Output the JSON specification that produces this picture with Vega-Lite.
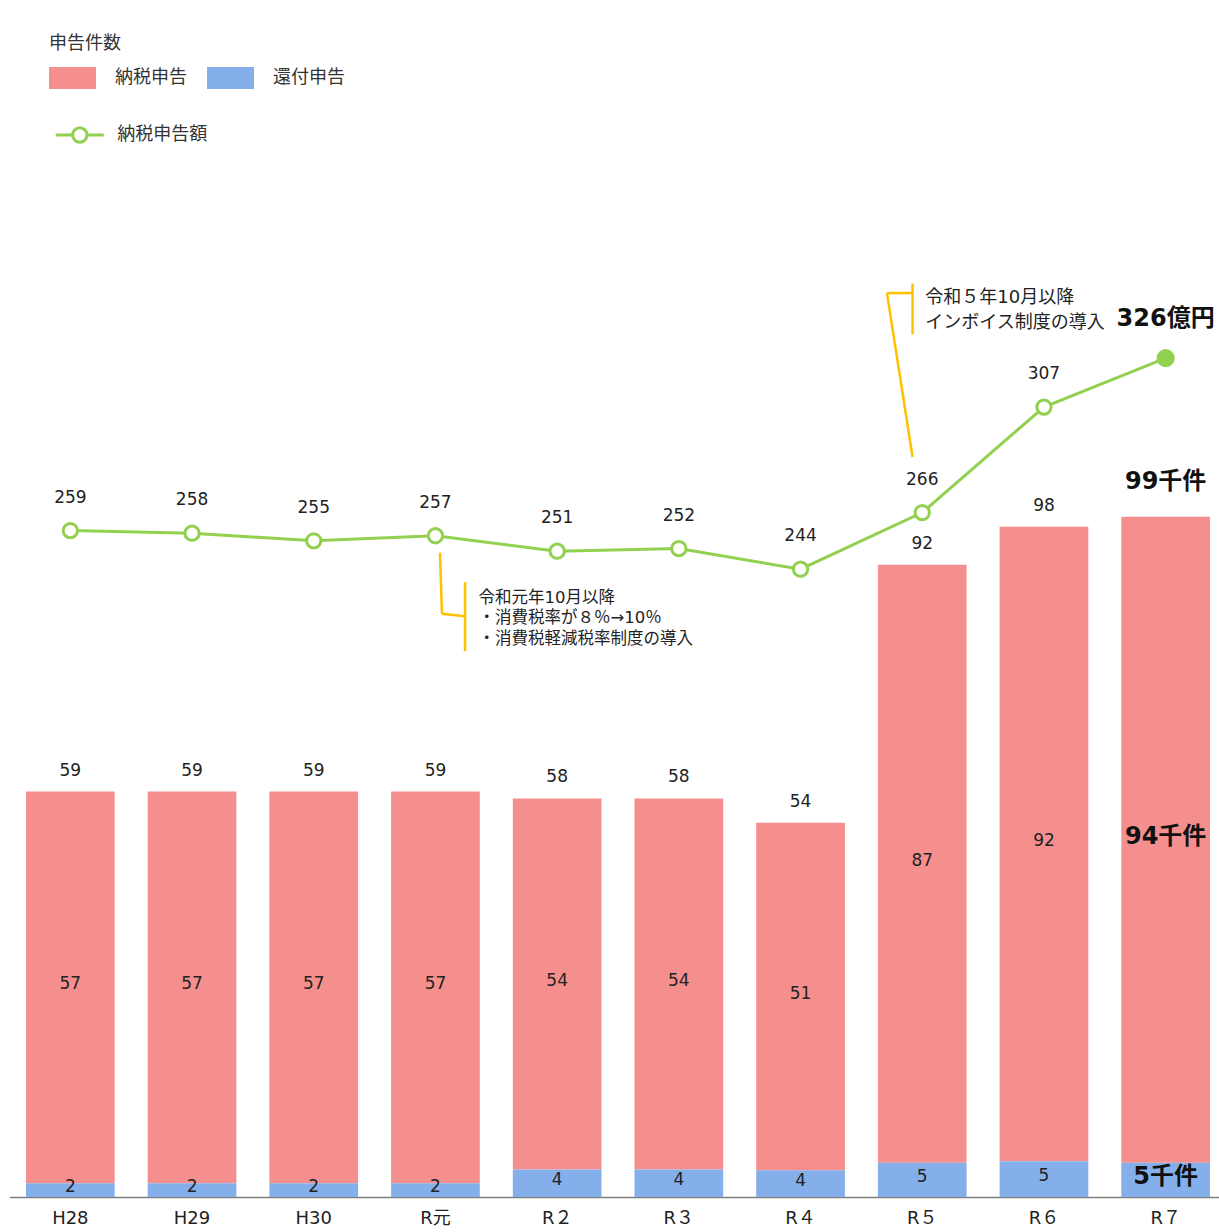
{
  "$schema": "https://vega.github.io/schema/vega-lite/v6.json",
  "width": 1217,
  "height": 1197,
  "autosize": {"type": "none"},
  "padding": {"left": 9.5, "top": 0, "right": 0, "bottom": 35},
  "config": {
    "view": {"stroke": null},
    "font": "DejaVu Sans, Noto Sans CJK JP",
    "text": {"fontSize": 17, "color": "#222222"}
  },
  "datasets": {
    "counts": [
      {"year": "H28", "type": "納税申告", "count": 57},
      {"year": "H28", "type": "還付申告", "count": 2},
      {"year": "H29", "type": "納税申告", "count": 57},
      {"year": "H29", "type": "還付申告", "count": 2},
      {"year": "H30", "type": "納税申告", "count": 57},
      {"year": "H30", "type": "還付申告", "count": 2},
      {"year": "R元", "type": "納税申告", "count": 57},
      {"year": "R元", "type": "還付申告", "count": 2},
      {"year": "R２", "type": "納税申告", "count": 54},
      {"year": "R２", "type": "還付申告", "count": 4},
      {"year": "R３", "type": "納税申告", "count": 54},
      {"year": "R３", "type": "還付申告", "count": 4},
      {"year": "R４", "type": "納税申告", "count": 50.55},
      {"year": "R４", "type": "還付申告", "count": 3.9},
      {"year": "R５", "type": "納税申告", "count": 87},
      {"year": "R５", "type": "還付申告", "count": 5},
      {"year": "R６", "type": "納税申告", "count": 92.35},
      {"year": "R６", "type": "還付申告", "count": 5.2},
      {"year": "R７", "type": "納税申告", "count": 94},
      {"year": "R７", "type": "還付申告", "count": 5}
    ],
    "amount": [
      {"year": "H28", "series": "納税申告額", "amount": 259},
      {"year": "H29", "series": "納税申告額", "amount": 258},
      {"year": "H30", "series": "納税申告額", "amount": 255},
      {"year": "R元", "series": "納税申告額", "amount": 257},
      {"year": "R２", "series": "納税申告額", "amount": 251},
      {"year": "R３", "series": "納税申告額", "amount": 252},
      {"year": "R４", "series": "納税申告額", "amount": 244},
      {"year": "R５", "series": "納税申告額", "amount": 266},
      {"year": "R６", "series": "納税申告額", "amount": 307},
      {"year": "R７", "series": "納税申告額", "amount": 326}
    ],
    "notes": [
      {"part": "a1", "year": "R元", "v1": 250.4, "v2": 226.7},
      {"part": "a2", "year": "R元", "v1": 226.7, "v2": 225.7},
      {"part": "a3", "year": "R元", "v1": 239.0, "v2": 212.2},
      {"part": "b1", "year": "R５", "v1": 287.6, "v2": 351.3},
      {"part": "b2", "year": "R５", "v1": 351.3, "v2": 351.3},
      {"part": "b3", "year": "R５", "v1": 355.0, "v2": 335.2},
      {"part": "t1", "year": "R元", "v1": 231.0, "label": "令和元年10月以降\n・消費税率が８％→10％\n・消費税軽減税率制度の導入"},
      {"part": "t2", "year": "R５", "v1": 347.4, "label": "令和５年10月以降\nインボイス制度の導入"}
    ]
  },
  "encoding": {
    "x": {
      "field": "year",
      "type": "nominal",
      "sort": null,
      "scale": {"domain": ["H28", "H29", "H30", "R元", "R２", "R３", "R４", "R５", "R６", "R７"], "paddingInner": 0.271},
      "axis": {"title": null, "labelAngle": 0, "ticks": false, "domainColor": "#7f7f7f", "domainWidth": 1.5, "labelFontSize": 18, "labelColor": "#222222", "labelPadding": 12, "labelFont": "DejaVu Sans, Noto Sans CJK JP"}
    }
  },
  "layer": [
    {
      "data": {"name": "counts"},
      "layer": [
        {
          "mark": {"type": "bar"},
          "encoding": {
            "y": {"field": "count", "type": "quantitative", "stack": "zero", "scale": {"domain": [0, 174.2], "nice": false, "zero": true}, "axis": null},
            "fill": {
              "field": "type", "type": "nominal",
              "scale": {"domain": ["納税申告", "還付申告"], "range": ["#F58F8E", "#84AFEB"]},
              "legend": {
                "orient": "none", "legendX": 39.5, "legendY": 35, "direction": "horizontal",
                "title": "申告件数", "titleFontSize": 18, "titleFontWeight": "normal", "titleColor": "#333333", "titlePadding": 14,
                "symbolType": "M-1,-0.47L1,-0.47L1,0.47L-1,0.47Z", "symbolSize": 2209, "symbolStrokeWidth": 0, "symbolOpacity": 1,
                "labelFontSize": 18, "labelColor": "#333333", "labelOffset": 19, "columnPadding": 20, "clipHeight": 22, "padding": 0
              }
            },
            "order": {"field": "type", "sort": "descending"}
          }
        },
        {
          "transform": [{"filter": "datum.year !== 'R７'"}],
          "mark": {"type": "text", "dy": -3},
          "encoding": {
            "y": {"field": "count", "type": "quantitative", "stack": "zero", "bandPosition": 0.5, "axis": null},
            "detail": {"field": "type"},
            "order": {"field": "type", "sort": "descending"},
            "text": {"field": "count", "type": "quantitative", "format": ".0f"}
          }
        },
        {
          "transform": [{"filter": "datum.year === 'R７'"}],
          "mark": {"type": "text", "dy": -3, "fontSize": 24, "fontWeight": "bold", "color": "#111111", "text": {"expr": "format(datum.count, '.0f') + '千件'"}},
          "encoding": {
            "y": {"field": "count", "type": "quantitative", "stack": "zero", "bandPosition": 0.5, "axis": null},
            "detail": {"field": "type"},
            "order": {"field": "type", "sort": "descending"}
          }
        },
        {
          "transform": [{"filter": "datum.year !== 'R７'"}],
          "mark": {"type": "text", "dy": -21},
          "encoding": {
            "y": {"aggregate": "sum", "field": "count", "type": "quantitative", "axis": null},
            "text": {"aggregate": "sum", "field": "count", "type": "quantitative", "format": ".0f"}
          }
        },
        {
          "transform": [{"filter": "datum.year === 'R７'"}],
          "mark": {"type": "text", "dy": -35, "fontSize": 24, "fontWeight": "bold", "color": "#111111", "text": {"expr": "format(datum.sum_count, '.0f') + '千件'"}},
          "encoding": {
            "y": {"aggregate": "sum", "field": "count", "type": "quantitative", "axis": null}
          }
        }
      ]
    },
    {
      "layer": [
        {
          "data": {"name": "amount"},
          "mark": {"type": "line", "strokeWidth": 3},
          "encoding": {
            "y": {"field": "amount", "type": "quantitative", "scale": {"domain": [0, 465.2], "nice": false, "zero": true}, "axis": null},
            "stroke": {
              "field": "series", "type": "nominal",
              "scale": {"range": ["#92D050"]},
              "legend": {
                "orient": "none", "legendX": 44.8, "legendY": 125, "title": null,
                "symbolType": "M-1,0L-0.3,0M0.3,0L1,0M0.3,0A0.3,0.3,0,1,1,-0.3,0A0.3,0.3,0,1,1,0.3,0Z",
                "symbolSize": 2304, "symbolStrokeWidth": 3, "symbolFillColor": "#ffffff", "symbolOpacity": 1,
                "labelFontSize": 18, "labelColor": "#333333", "labelOffset": 12, "clipHeight": 20, "padding": 0
              }
            }
          }
        },
        {
          "data": {"name": "amount"},
          "transform": [{"filter": "datum.year !== 'R７'"}],
          "mark": {"type": "point", "shape": "circle", "filled": true, "fill": "#ffffff", "stroke": "#92D050", "strokeWidth": 3, "size": 205, "opacity": 1},
          "encoding": {"y": {"field": "amount", "type": "quantitative", "axis": null}}
        },
        {
          "data": {"name": "amount"},
          "transform": [{"filter": "datum.year === 'R７'"}],
          "mark": {"type": "point", "shape": "circle", "filled": true, "color": "#92D050", "size": 330, "opacity": 1},
          "encoding": {"y": {"field": "amount", "type": "quantitative", "axis": null}}
        },
        {
          "data": {"name": "amount"},
          "transform": [{"filter": "datum.year !== 'R７'"}],
          "mark": {"type": "text", "dy": -33},
          "encoding": {
            "y": {"field": "amount", "type": "quantitative", "axis": null},
            "text": {"field": "amount", "type": "quantitative", "format": ".0f"}
          }
        },
        {
          "data": {"name": "amount"},
          "transform": [{"filter": "datum.year === 'R７'"}],
          "mark": {"type": "text", "dy": -39, "fontSize": 24, "fontWeight": "bold", "color": "#111111", "text": {"expr": "format(datum.amount, '.0f') + '億円'"}},
          "encoding": {"y": {"field": "amount", "type": "quantitative", "axis": null}}
        },
        {
          "data": {"name": "notes"},
          "transform": [{"filter": "datum.part === 'a1'"}],
          "mark": {"type": "rule", "color": "#FFC000", "strokeWidth": 2.5, "xOffset": 4.5, "x2Offset": 6.5},
          "encoding": {
            "x2": {"field": "year"},
            "y": {"field": "v1", "type": "quantitative", "axis": null},
            "y2": {"field": "v2"}
          }
        },
        {
          "data": {"name": "notes"},
          "transform": [{"filter": "datum.part === 'a2'"}],
          "mark": {"type": "rule", "color": "#FFC000", "strokeWidth": 2.5, "xOffset": 6.5, "x2Offset": 29.6},
          "encoding": {
            "x2": {"field": "year"},
            "y": {"field": "v1", "type": "quantitative", "axis": null},
            "y2": {"field": "v2"}
          }
        },
        {
          "data": {"name": "notes"},
          "transform": [{"filter": "datum.part === 'a3'"}],
          "mark": {"type": "rule", "color": "#FFC000", "strokeWidth": 2.5, "xOffset": 29.6},
          "encoding": {
            "y": {"field": "v1", "type": "quantitative", "axis": null},
            "y2": {"field": "v2"}
          }
        },
        {
          "data": {"name": "notes"},
          "transform": [{"filter": "datum.part === 'b1'"}],
          "mark": {"type": "rule", "color": "#FFC000", "strokeWidth": 2.5, "xOffset": -9.7, "x2Offset": -35.3},
          "encoding": {
            "x2": {"field": "year"},
            "y": {"field": "v1", "type": "quantitative", "axis": null},
            "y2": {"field": "v2"}
          }
        },
        {
          "data": {"name": "notes"},
          "transform": [{"filter": "datum.part === 'b2'"}],
          "mark": {"type": "rule", "color": "#FFC000", "strokeWidth": 2.5, "xOffset": -35.3, "x2Offset": -9.7},
          "encoding": {
            "x2": {"field": "year"},
            "y": {"field": "v1", "type": "quantitative", "axis": null},
            "y2": {"field": "v2"}
          }
        },
        {
          "data": {"name": "notes"},
          "transform": [{"filter": "datum.part === 'b3'"}],
          "mark": {"type": "rule", "color": "#FFC000", "strokeWidth": 2.5, "xOffset": -9.7},
          "encoding": {
            "y": {"field": "v1", "type": "quantitative", "axis": null},
            "y2": {"field": "v2"}
          }
        },
        {
          "data": {"name": "notes"},
          "transform": [{"filter": "datum.part === 't1'"}],
          "mark": {"type": "text", "align": "left", "baseline": "alphabetic", "dx": 43, "fontSize": 16.5, "lineBreak": "\n", "lineHeight": 20.5, "color": "#222222"},
          "encoding": {
            "y": {"field": "v1", "type": "quantitative", "axis": null},
            "text": {"field": "label"}
          }
        },
        {
          "data": {"name": "notes"},
          "transform": [{"filter": "datum.part === 't2'"}],
          "mark": {"type": "text", "align": "left", "baseline": "alphabetic", "dx": 3, "fontSize": 18, "lineBreak": "\n", "lineHeight": 25, "color": "#222222"},
          "encoding": {
            "y": {"field": "v1", "type": "quantitative", "axis": null},
            "text": {"field": "label"}
          }
        }
      ]
    }
  ],
  "resolve": {"scale": {"y": "independent"}}
}
